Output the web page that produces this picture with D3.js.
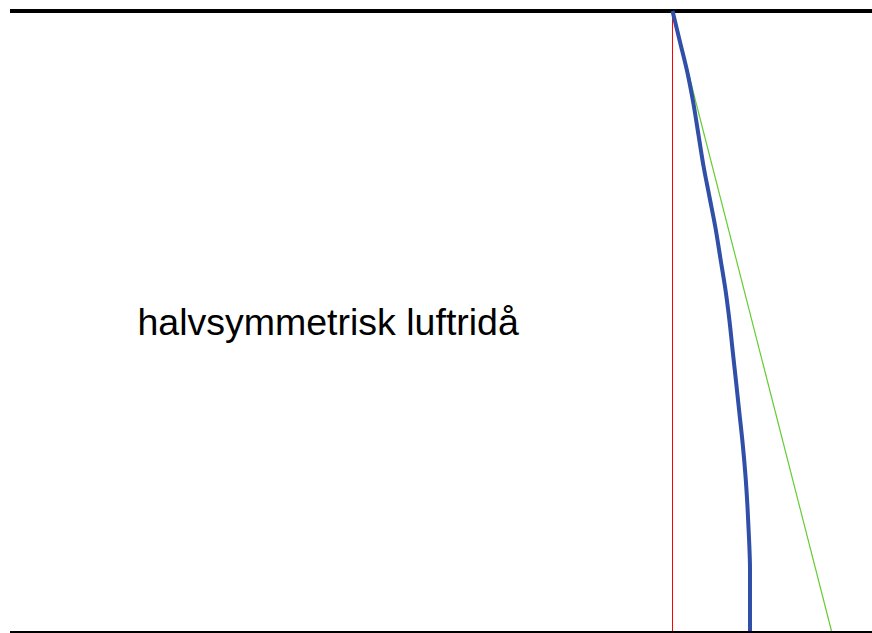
<!DOCTYPE html>
<html>
<head>
<meta charset="utf-8">
<script src="https://cdn.jsdelivr.net/npm/d3@7"></script>
<style>
  body { margin: 0; background: #fff; }
  svg { display: block; }
</style>
</head>
<body>
<div id="chart"></div>
<script>
// height from top of curtain (0) to floor (1)
var heights = [0, 0.05, 0.1, 0.15, 0.2, 0.25, 0.3, 0.35, 0.4, 0.45, 0.5,
  0.55, 0.6, 0.65, 0.7, 0.75, 0.8, 0.85, 0.9, 0.95, 1];
// deflection of the jet centre line (blue)
var deflection = [0, 7.5, 15, 21, 26, 31, 37, 43, 48, 53, 57,
  60.3, 63.7, 67, 70.3, 73, 75, 76.5, 77.5, 77.5, 77.5];
// straight reference line (green)
var straightLine = [{ h: 0, d: 0 }, { h: 1, d: 159 }];
var label = "halvsymmetrisk luftridå";

var width = 872, height = 633;

var svg = d3.select("#chart").append("svg")
  .attr("width", width)
  .attr("height", height);

var x = d3.scaleLinear().domain([0, 159]).range([672.5, 831.5]);
var y = d3.scaleLinear().domain([0, 1]).range([11, 631]);

// top and floor lines
svg.append("line")
  .attr("x1", 10).attr("x2", width)
  .attr("y1", y(0)).attr("y2", y(0))
  .attr("stroke", "#000").attr("stroke-width", 4);
svg.append("line")
  .attr("x1", 10).attr("x2", width)
  .attr("y1", 632.5).attr("y2", 632.5)
  .attr("stroke", "#000").attr("stroke-width", 3);

// vertical (red)
svg.append("line")
  .attr("x1", x(0)).attr("x2", x(0))
  .attr("y1", y(0)).attr("y2", y(1))
  .attr("stroke", "#ff0000").attr("stroke-width", 1);

var line = d3.line()
  .x(function (d) { return x(d.d); })
  .y(function (d) { return y(d.h); });

svg.append("path")
  .datum(straightLine)
  .attr("d", line)
  .attr("fill", "none")
  .attr("stroke", "#66cc33")
  .attr("stroke-width", 1.2);

var data = heights.map(function (h, i) {
  return { h: h, d: deflection[i] };
});

svg.append("path")
  .datum(data)
  .attr("d", line.curve(d3.curveMonotoneY))
  .attr("fill", "none")
  .attr("stroke", "#2f4fa8")
  .attr("stroke-width", 4);

svg.append("text")
  .attr("x", 137.5)
  .attr("y", 335)
  .style("font-family", "'Liberation Sans', Arial, sans-serif")
  .style("font-size", "37.5px")
  .attr("fill", "#000")
  .text(label);
</script>
</body>
</html>
